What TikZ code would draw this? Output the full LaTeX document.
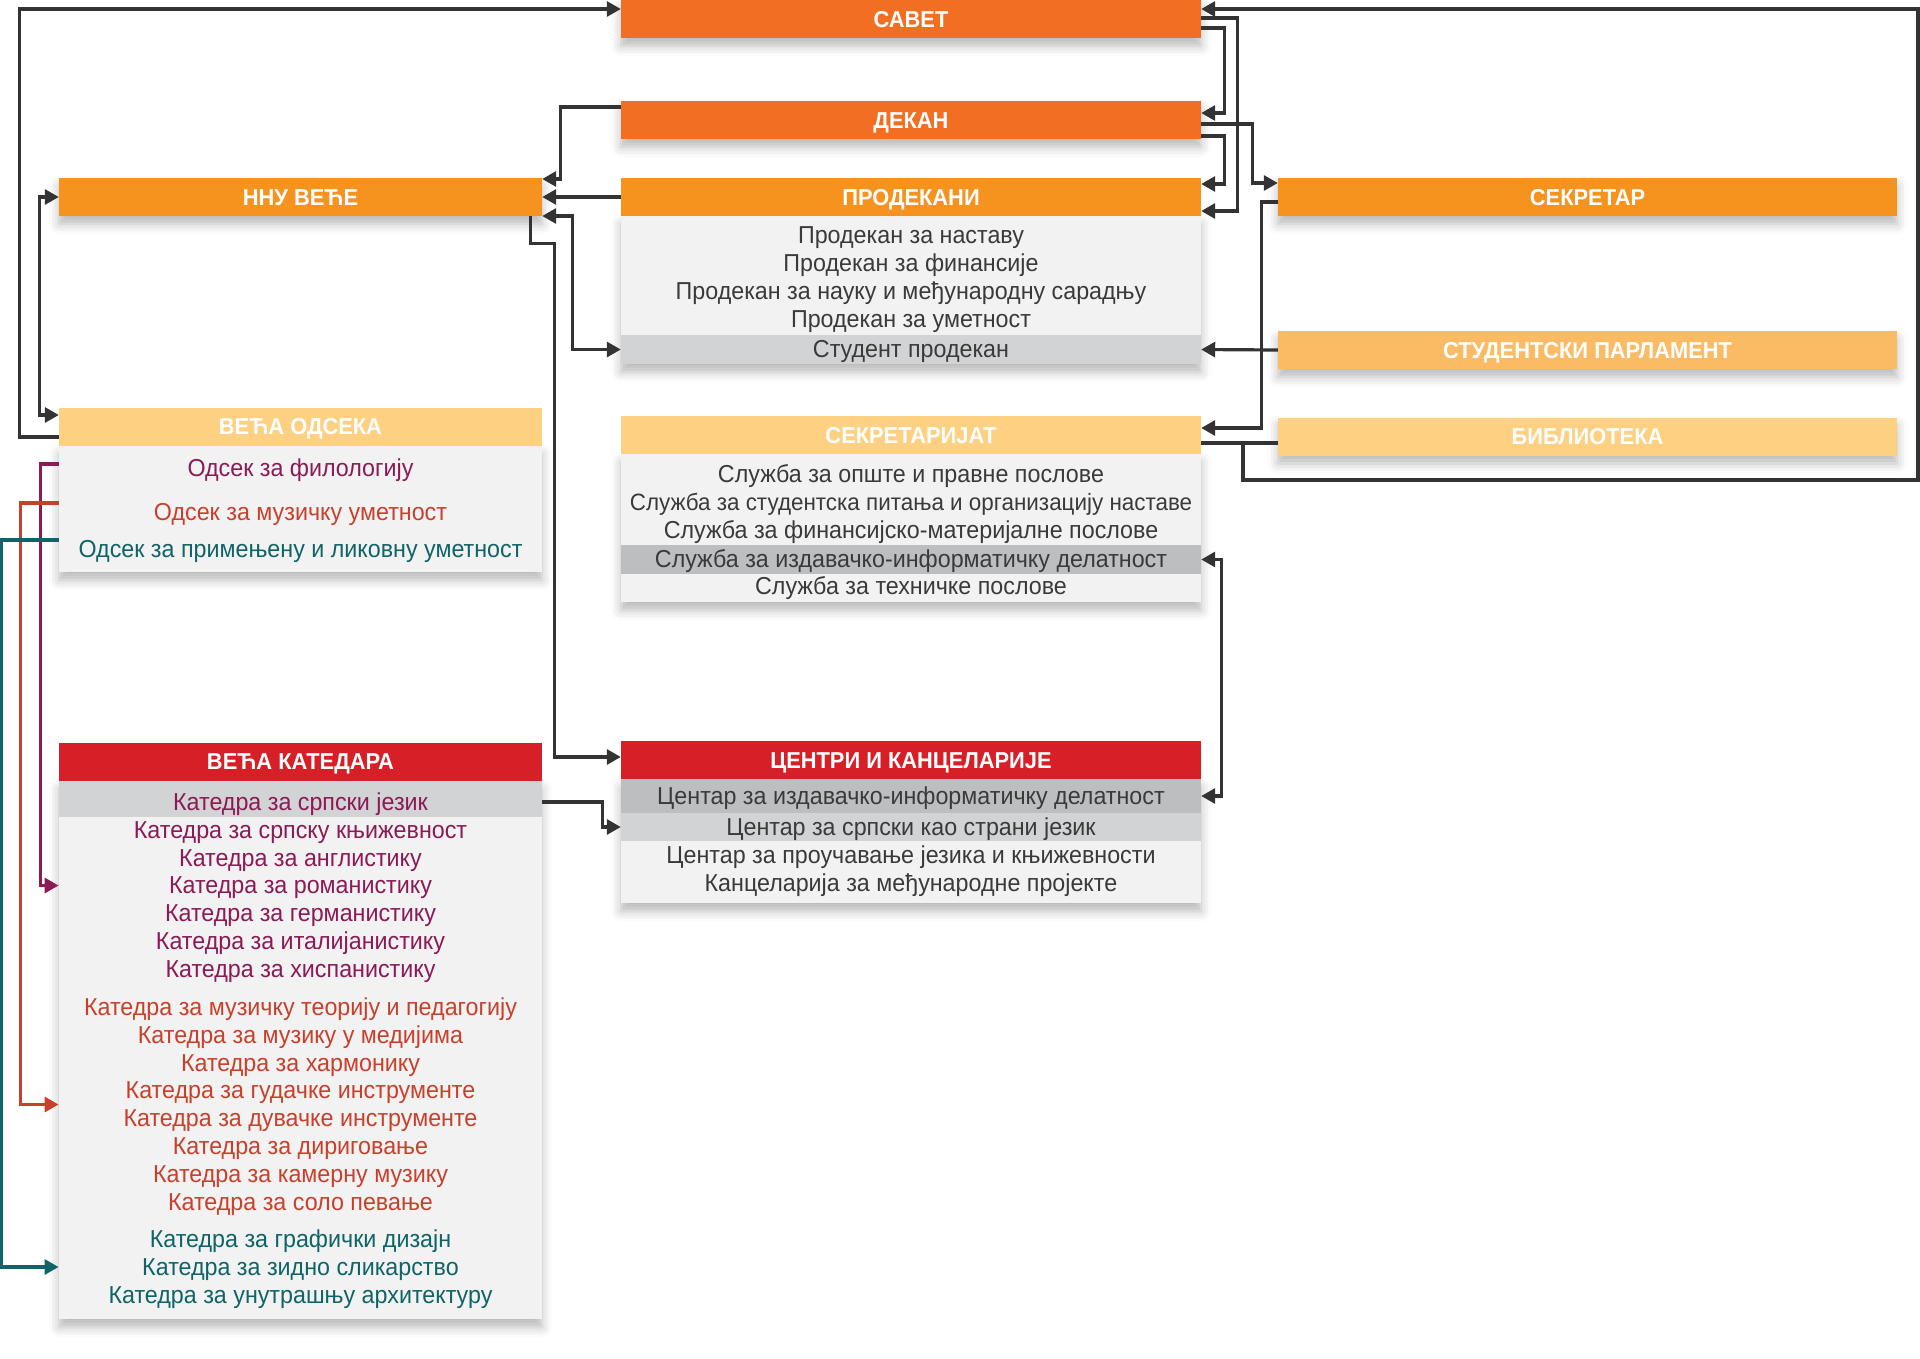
\documentclass[tikz,border=0pt]{standalone}
\usepackage{fontspec}
\setmainfont[FakeStretch=0.95]{Liberation Sans}
\usetikzlibrary{positioning, arrows.meta, fit, shadows.blur}

\definecolor{cDark}{RGB}{241,110,34}
\definecolor{cOrange}{RGB}{246,147,30}
\definecolor{cParl}{RGB}{251,187,100}
\definecolor{cLight}{RGB}{254,208,130}
\definecolor{cRed}{RGB}{214,31,38}
\definecolor{cBody}{RGB}{242,242,242}
\definecolor{cGrayA}{RGB}{209,211,212}
\definecolor{cGrayB}{RGB}{188,190,192}
\definecolor{cLine}{RGB}{51,51,51}
\definecolor{cText}{RGB}{58,58,58}
\definecolor{cFil}{RGB}{139,26,85}
\definecolor{cMuz}{RGB}{200,64,43}
\definecolor{cLik}{RGB}{16,99,102}

\newcommand{\hdfont}{\fontsize{23}{26}\selectfont\bfseries}
\newcommand{\rowfont}{\fontsize{24.5}{28}\selectfont}

\begin{document}
\begin{tikzpicture}[x=1pt, y=-1pt]

% --- Styles ---
\tikzset{
    softshadow/.style={blur shadow={shadow xshift=0pt, shadow yshift=-8pt, shadow blur radius=10pt, shadow opacity=28}},
    headbox/.style={rectangle, minimum height=38pt, inner sep=0pt, text=white, font=\hdfont, text height=16.4pt, text depth=0pt},
    bodybox/.style={rectangle, anchor=north, fill=cBody, inner sep=0pt, softshadow},
    rowbox/.style={rectangle, inner sep=0pt, minimum height=28pt, font=\rowfont, text=cText, text height=16.5pt, text depth=0pt},
    link/.style={draw=cLine, line width=3.2pt},
    arr/.style={-{Triangle[length=14pt, width=15pt]}},
    arrboth/.style={{Triangle[length=14pt, width=15pt]}-{Triangle[length=14pt, width=15pt]}},
}

\useasboundingbox (0,0) rectangle (1920,1358);

% --- Top: Savet, Dekan ---
\node[headbox, softshadow, fill=cDark, minimum width=580pt] (savet) at (911,19) {САВЕТ};
\node[headbox, softshadow, fill=cDark, minimum width=580pt] (dekan) at (911,120) {ДЕКАН};

% --- Prodekani ---
\node[bodybox, minimum width=580pt, minimum height=148pt] (prodBody) at (911,216) {};
\node[headbox, fill=cOrange, minimum width=580pt] (prodekani) at (911,197) {ПРОДЕКАНИ};
\node[rowbox, minimum width=580pt] (pNastava) at (911,235) {Продекан за наставу};
\node[rowbox, minimum width=580pt] (pFinans) at (911,263) {Продекан за финансије};
\node[rowbox, minimum width=580pt] (pNauka) at (911,291) {Продекан за науку и међународну сарадњу};
\node[rowbox, minimum width=580pt] (pUmet) at (911,319) {Продекан за уметност};
\node[rowbox, fill=cGrayA, minimum width=580pt, minimum height=29pt] (pStudent) at (911,349.5) {Студент продекан};

% --- NNU vece, odseci ---
\node[headbox, softshadow, fill=cOrange, minimum width=483pt] (nnu) at (300.5,197) {ННУ ВЕЋЕ};

\node[bodybox, minimum width=483pt, minimum height=126pt] (odsBody) at (300.5,446) {};
\node[headbox, fill=cLight, minimum width=483pt] (odseci) at (300.5,426.5) {ВЕЋА ОДСЕКА};
\node[rowbox, text=cFil, minimum width=483pt] (oFil) at (300.5,468) {Одсек за филологију};
\node[rowbox, text=cMuz, minimum width=483pt] (oMuz) at (300.5,512) {Одсек за музичку уметност};
\node[rowbox, text=cLik, minimum width=483pt] (oLik) at (300.5,549) {Одсек за примењену и ликовну уметност};

% --- Right column ---
\node[headbox, softshadow, fill=cOrange, minimum width=619pt] (sekretar) at (1587.5,197) {СЕКРЕТАР};
\node[headbox, softshadow, fill=cParl, minimum width=619pt] (parlament) at (1587.5,350) {СТУДЕНТСКИ ПАРЛАМЕНТ};
\node[headbox, softshadow, fill=cLight, minimum width=619pt] (biblioteka) at (1587.5,436.5) {БИБЛИОТЕКА};

% --- Sekretarijat ---
\node[bodybox, minimum width=580pt, minimum height=148pt] (sekBody) at (911,454) {};
\node[headbox, fill=cLight, minimum width=580pt] (sekretarijat) at (911,435) {СЕКРЕТАРИЈАТ};
\node[rowbox, minimum width=580pt] (sOpste) at (911,474) {Служба за опште и правне послове};
\node[rowbox, minimum width=580pt, font=\fontsize{23.6}{28}\selectfont] (sStud) at (911,502) {Служба за студентска питања и организацију наставе};
\node[rowbox, minimum width=580pt] (sFin) at (911,530) {Служба за финансијско-материјалне послове};
\node[rowbox, fill=cGrayB, minimum width=580pt, minimum height=29pt] (sIzdav) at (911,559.5) {Служба за издавачко-информатичку делатност};
\node[rowbox, minimum width=580pt] (sTehn) at (911,586) {Служба за техничке послове};

% --- Centri i kancelarije ---
\node[bodybox, minimum width=580pt, minimum height=124pt] (cenBody) at (911,779) {};
\node[headbox, fill=cRed, minimum width=580pt] (centri) at (911,760) {ЦЕНТРИ И КАНЦЕЛАРИЈЕ};
\node[rowbox, fill=cGrayB, minimum width=580pt, minimum height=34pt] (cIzdav) at (911,796) {Центар за издавачко-информатичку делатност};
\node[rowbox, fill=cGrayA, minimum width=580pt] (cSrpski) at (911,827) {Центар за српски као страни језик};
\node[rowbox, minimum width=580pt] (cProuc) at (911,855) {Центар за проучавање језика и књижевности};
\node[rowbox, minimum width=580pt] (cKanc) at (911,883) {Канцеларија за међународне пројекте};

% --- Veca katedara ---
\node[bodybox, minimum width=483pt, minimum height=538pt] (katBody) at (300.5,781) {};
\node[headbox, fill=cRed, minimum width=483pt] (katedre) at (300.5,761.5) {ВЕЋА КАТЕДАРА};
\node[rectangle, fill=cGrayA, inner sep=0pt, minimum width=483pt, minimum height=36pt] (katGray) at (300.5,799) {};
\foreach \y/\txt/\col [count=\i] in {
    802/Катедра за српски језик/cFil,
    830/Катедра за српску књижевност/cFil,
    858/Катедра за англистику/cFil,
    885/Катедра за романистику/cFil,
    913/Катедра за германистику/cFil,
    941/Катедра за италијанистику/cFil,
    969/Катедра за хиспанистику/cFil,
    1007/Катедра за музичку теорију и педагогију/cMuz,
    1035/Катедра за музику у медијима/cMuz,
    1063/Катедра за хармонику/cMuz,
    1090/Катедра за гудачке инструменте/cMuz,
    1118/Катедра за дувачке инструменте/cMuz,
    1146/Катедра за дириговање/cMuz,
    1174/Катедра за камерну музику/cMuz,
    1202/Катедра за соло певање/cMuz,
    1239/Катедра за графички дизајн/cLik,
    1267/Катедра за зидно сликарство/cLik,
    1295/Катедра за унутрашњу архитектуру/cLik}
{
    \node[rowbox, text=\col, minimum width=483pt] (kat-\i) at (300.5,\y) {\txt};
}
\node[fit=(kat-1)(kat-7), inner sep=0pt] (filGroup) {};
\node[fit=(kat-8)(kat-15), inner sep=0pt] (muzGroup) {};
\node[fit=(kat-16)(kat-18), inner sep=0pt] (likGroup) {};

% --- Connectors ---
\draw[link, arr] ([yshift=-10.5pt]odseci.west) -- ++(-39,0) |- ([yshift=10pt]savet.west);
\draw[link, arrboth] (nnu.west) -- ++(-19,0) |- ([yshift=11.5pt]odseci.west);
\draw[link, arr] ([yshift=13pt]dekan.west) -- ++(-60,0) |- ([yshift=18pt]nnu.east);
\draw[link, arr] (prodekani.west) -- (nnu.east);
\draw[link, arrboth] ([yshift=-19pt]nnu.east) -- ++(30,0) |- (pStudent.west);
\draw[link, arr] ([xshift=-12pt]nnu.south east) -- ++(0,27) -- ++(24,0) |- ([yshift=3pt]centri.west);

\draw[link, arr] ([yshift=-9pt]savet.east) -- ++(23,0) |- ([yshift=7pt]dekan.east);
\draw[link, arr] ([yshift=1pt]savet.east) -- ++(36,0) |- ([yshift=-14pt]prodekani.east);
\draw[link, arr] ([yshift=-4pt]dekan.east) -- ++(51,0) |- ([yshift=14pt]sekretar.west);
\draw[link, arr] ([yshift=-16pt]dekan.east) -- ++(23,0) |- ([yshift=13pt]prodekani.east);
\draw[link, arr] ([yshift=-5pt]sekretar.west) -- ++(-16,0) |- ([yshift=7pt]sekretarijat.east);
\draw[link, arr] (parlament.west) -- (pStudent.east);

\coordinate (bibJoin) at (1243,443);
\draw[link] ([yshift=-8pt]sekretarijat.east) -- (biblioteka.west |- bibJoin);
\draw[link, arr] (bibJoin) -- ++(0,37) -- ++(675,0) |- ([yshift=10pt]savet.east);

\draw[link, arrboth] (sIzdav.east) -- ++(20,0) |- (cIzdav.east);
\draw[link, arr] (kat-1.east) -- ++(60,0) |- (cSrpski.west);

\draw[link, arr, draw=cFil] ([yshift=4pt]oFil.west) -- ++(-18,0) |- (filGroup.west);
\draw[link, arr, draw=cMuz] ([yshift=9pt]oMuz.west) -- ++(-38,0) |- (muzGroup.west);
\draw[link, arr, draw=cLik] ([yshift=9pt]oLik.west) -- ++(-57,0) |- (likGroup.west);

\end{tikzpicture}
\end{document}
